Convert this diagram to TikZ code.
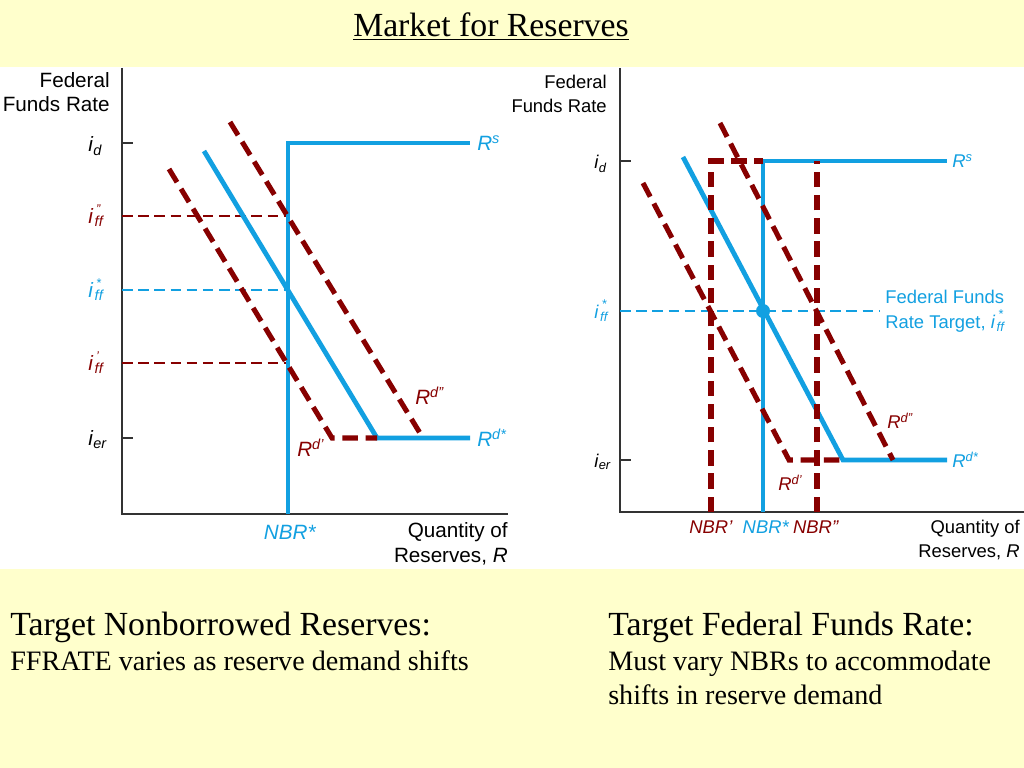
\documentclass[tikz,border=0pt]{standalone}
\usepackage{fontspec}
\setmainfont{Liberation Serif}
\setsansfont{Liberation Sans}
\usetikzlibrary{positioning}
\definecolor{bgyellow}{RGB}{255,255,204}
\definecolor{nbrblue}{RGB}{18,160,225}
\definecolor{ddred}{RGB}{135,0,0}
\tikzstyle{axis} = [draw=black!80, line width=1pt]
\tikzstyle{supply} = [draw=nbrblue, line width=3.4pt]
\tikzstyle{shifted} = [draw=ddred, line width=3.6pt, dash pattern=on 11pt off 5.5pt]
\tikzstyle{guide} = [line width=0.8pt, dash pattern=on 7.5pt off 4pt]
\tikzstyle{lbl} = [font=\sffamily\fontsize{14.7}{17.5}\selectfont, inner sep=0pt]
\tikzstyle{rlbl} = [font=\sffamily\fontsize{13.1}{17.5}\selectfont, inner sep=0pt]
\tikzstyle{heading} = [font=\fontsize{24}{28}\selectfont, inner sep=0pt]
\tikzstyle{note} = [font=\fontsize{20}{24}\selectfont, inner sep=0pt]
\newcommand{\rate}[1]{\textit{i}\textsubscript{\textit{#1}}}
\newcommand{\ffrate}[1]{\textit{i}\kern1pt\rlap{\raisebox{6.6pt}{\fontsize{9}{9}\selectfont\kern1pt\textit{#1}}}\textsubscript{\textit{ff}}}
\newcommand{\dem}[1]{\textit{R}\textsuperscript{\textit{#1}}}

\begin{document}
\begin{tikzpicture}[x=0.025cm, y=-0.025cm]
	\useasboundingbox (0,0) rectangle (1024,768);
	\fill[bgyellow] (0,0) rectangle (1024,768);
	\fill[white] (0,67) rectangle (1024,569);
	\node (title) [heading, anchor=base] at (491,37) {\underline{Market for Reserves}};

	% left panel: nonborrowed reserves target
	\draw [axis] (122,68) -- (122,514) -- (508,514);
	\draw [axis] (122,143) -- (133,143);
	\draw [axis] (122,438) -- (133,438);
	\node (ly) [lbl, anchor=east, align=right] at (110,92) {Federal\\Funds Rate};
	\node (lx) [lbl, anchor=east, align=right] at (508,544) {Quantity of\\Reserves, \textit{R}};
	\node (lid) [lbl, anchor=west] at (88,146) {\rate{d}};
	\node (lipp) [lbl, anchor=west, text=ddred] at (88,216) {\ffrate{''}};
	\node (listar) [lbl, anchor=west, text=nbrblue] at (88,290) {\ffrate{*}};
	\node (lip) [lbl, anchor=west, text=ddred] at (88,363) {\ffrate{'}};
	\node (lier) [lbl, anchor=west] at (88,440) {\rate{er}};
	\draw [guide, ddred] (122,216) -- (288,216);
	\draw [guide, nbrblue] (122,290) -- (288,290);
	\draw [guide, ddred] (122,363) -- (288,363);
	\coordinate (ls0) at (288,514);
	\coordinate (ls1) at (288,143);
	\coordinate (ls2) at (470,143);
	\coordinate (ld0) at (204,151);
	\coordinate (ld1) at (377,438);
	\coordinate (ld2) at (470,438);
	\draw [supply] (ls0) -- (ls1) -- (ls2);
	\draw [supply] (ld0) -- (ld1) -- (ld2);
	\draw [shifted] (230,122) -- (423,438);
	\draw [shifted] (169,169) -- (332,438) -- (ld1);
	\node (lrs) [lbl, anchor=west, text=nbrblue] at (477,143) {\dem{s}};
	\node (lrd) [lbl, anchor=west, text=nbrblue] at (477,438) {\dem{d*}};
	\node (lrdpp) [lbl, anchor=west, text=ddred] at (415,396) {\dem{d''}};
	\node (lrdp) [lbl, anchor=west, text=ddred] at (297,448) {\dem{d'}};
	\node (lnbr) [lbl, text=nbrblue] at (290,532) {\textit{NBR*}};

	% right panel: federal funds rate target
	\draw [axis] (620,68) -- (620,512) -- (1024,512);
	\draw [axis] (620,161) -- (631,161);
	\draw [axis] (620,460) -- (631,460);
	\node (ry) [rlbl, anchor=east, align=right] at (607,94) {Federal\\Funds Rate};
	\node (rx) [rlbl, anchor=east, align=right] at (1020,540) {Quantity of\\Reserves, \textit{R}};
	\node (rid) [rlbl, anchor=west] at (594,164) {\rate{d}};
	\node (ristar) [rlbl, anchor=west, text=nbrblue] at (594,311) {\ffrate{*}};
	\node (rier) [rlbl, anchor=west] at (594,462) {\rate{er}};
	\draw [guide, nbrblue] (620,311) -- (880,311);
	\node (rtarget) [rlbl, anchor=west, align=left, text=nbrblue] at (885,311) {Federal Funds\\Rate Target, \ffrate{*}};
	\coordinate (rs0) at (763,512);
	\coordinate (rs1) at (763,161);
	\coordinate (rs2) at (947,161);
	\coordinate (rd0) at (683,157);
	\coordinate (rd1) at (843,460);
	\coordinate (rd2) at (947,460);
	\draw [supply] (rs0) -- (rs1) -- (rs2);
	\draw [supply] (rd0) -- (rd1) -- (rd2);
	\draw [shifted] (711,512) -- (711,161) -- (rs1);
	\draw [shifted] (817,512) -- (817,161);
	\draw [shifted] (720,123) -- (893,460);
	\draw [shifted] (643,183) -- (789,460) -- (rd1);
	\fill [nbrblue] (763,311) circle (7);
	\node (rrs) [rlbl, anchor=west, text=nbrblue] at (952,161) {\dem{s}};
	\node (rrd) [rlbl, anchor=west, text=nbrblue] at (952,460) {\dem{d*}};
	\node (rrdpp) [rlbl, anchor=west, text=ddred] at (887,421) {\dem{d''}};
	\node (rrdp) [rlbl, anchor=west, text=ddred] at (778,483) {\dem{d'}};
	\node (rnbrp) [rlbl, text=ddred] at (711,527) {\textit{NBR'}};
	\node (rnbr) [rlbl, text=nbrblue] at (766,527) {\textit{NBR*}};
	\node (rnbrpp) [rlbl, text=ddred] at (816,527) {\textit{NBR''}};

	% notes below the charts
	\node (lnote) [heading, anchor=base west] at (10,635) {Target Nonborrowed Reserves:};
	\node (lnote2) [note, anchor=base west] at (10,670) {FFRATE varies as reserve demand shifts};
	\node (rnote) [heading, anchor=base west] at (608,635) {Target Federal Funds Rate:};
	\node (rnote2) [note, anchor=base west] at (608,670) {Must vary NBRs to accommodate};
	\node (rnote3) [note, anchor=base west] at (608,704) {shifts in reserve demand};
\end{tikzpicture}
\end{document}
